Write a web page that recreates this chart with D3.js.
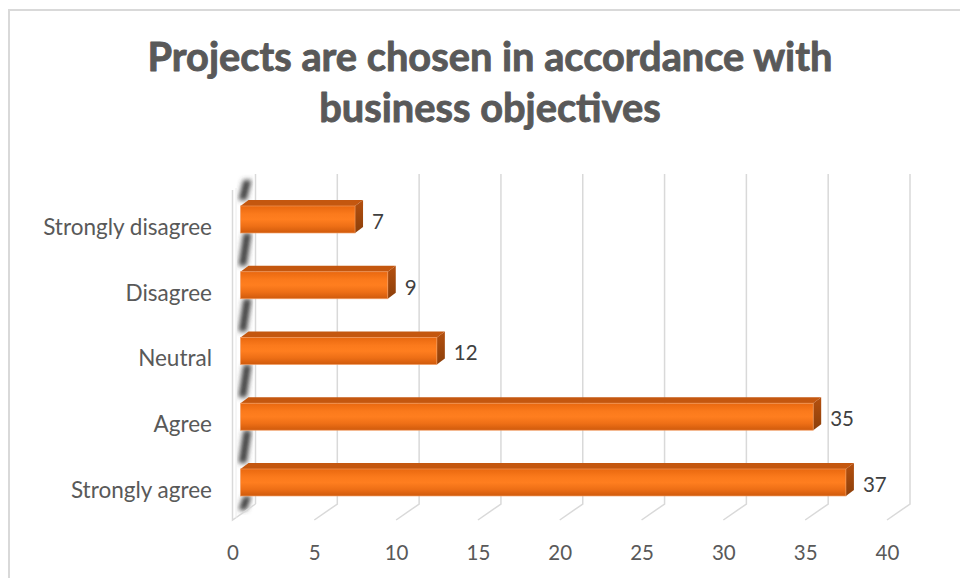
<!DOCTYPE html>
<html>
<head>
<meta charset="utf-8">
<script src="https://cdn.jsdelivr.net/npm/d3@7"></script>
<style>
  html, body { margin: 0; padding: 0; background: #ffffff; }
  svg { display: block; }
  text { font-family: Lato, "Open Sans", sans-serif; }
</style>
</head>
<body>
<script>
// Survey responses
const categories = ["Strongly agree", "Agree", "Neutral", "Disagree", "Strongly disagree"];
const values = [37, 35, 12, 9, 7];
const xTicks = [0, 5, 10, 15, 20, 25, 30, 35, 40];
const titleLines = ["Projects are chosen in accordance with", "business objectives"];

const W = 960, H = 578;
const svg = d3.select("body").append("svg").attr("width", W).attr("height", H);
const defs = svg.append("defs");

// Outer chart frame
svg.append("rect")
  .attr("x", 9).attr("y", 10).attr("width", 1000).attr("height", 700)
  .attr("fill", "#fff").attr("stroke", "#d9d9d9").attr("stroke-width", 2);

// Back plane value scale, plus the pseudo-3D depth offset to the front of the floor
const x = d3.scaleLinear().domain([0, 40]).range([255.5, 910]);
const depth = { dx: -23, dy: 16 };
const wallTop = 174, wallBottom = 504;

// Category bands (top to bottom), giving the front-face top of each bar
const order = categories.slice().reverse();
const step = 65.75;
const y = d3.scaleBand().domain(order)
  .range([186.6, 186.6 + step * order.length])
  .paddingInner(1 - 27 / step).paddingOuter((1 - 27 / step) / 2);
const barH = y.bandwidth();
const barShift = -15;        // bar front face sits between the back wall and the floor front
const bev = { dx: 8, dy: -6 }; // top/side face offset of each bar

// Gradients
const front = defs.append("linearGradient").attr("id", "barFront")
  .attr("x1", 0).attr("y1", 0).attr("x2", 0).attr("y2", 1);
[[0, "#e9680f"], [0.3, "#fb7a1c"], [0.5, "#ff7e1f"], [0.75, "#ee6f16"], [1, "#cf5a0c"]]
  .forEach(([o, c]) => front.append("stop").attr("offset", o).attr("stop-color", c));
const side = defs.append("linearGradient").attr("id", "barSide")
  .attr("x1", 0).attr("y1", 0).attr("x2", 0).attr("y2", 1);
[[0, "#b5500f"], [1, "#8c3f0a"]]
  .forEach(([o, c]) => side.append("stop").attr("offset", o).attr("stop-color", c));

const blur = defs.append("filter").attr("id", "soft")
  .attr("x", "-100%").attr("y", "-30%").attr("width", "300%").attr("height", "160%");
blur.append("feGaussianBlur").attr("stdDeviation", 2.6);

// Side wall at zero
const x0 = x(0);
const wallPts = [[x0 + depth.dx, wallTop + depth.dy], [x0, wallTop], [x0, wallBottom], [x0 + depth.dx, wallBottom + depth.dy]];
defs.append("clipPath").attr("id", "wallClip")
  .append("polygon").attr("points", [[x0 - 19, wallTop], [x0 - 2, wallTop], [x0 - 2, wallBottom + depth.dy], [x0 - 19, wallBottom + depth.dy]].map(p => p.join(",")).join(" "));

const wallG = svg.append("g").attr("clip-path", "url(#wallClip)");
// shaded streaks visible in the gaps between bars
const gaps = [];
let prev = wallTop + 6;
order.forEach(c => {
  gaps.push([prev, y(c) + bev.dy]);
  prev = y(c) + barH;
});
gaps.push([prev, wallBottom + 6]);
gaps.forEach(([g0, g1]) => {
  const a = x0 - 8, b = x0 - 13;
  wallG.append("polygon")
    .attr("points", [[a - 4, g0], [a + 4, g0], [b + 4, g1], [b - 4, g1]].map(p => p.join(",")).join(" "))
    .attr("fill", "#3c3c3c").attr("filter", "url(#soft)");
});

svg.append("path")
  .attr("d", `M${wallPts[0]}L${wallPts[3]}L${wallPts[2]}M${wallPts[1]}L${wallPts[2]}`)
  .attr("fill", "none").attr("stroke", "#d9d9d9").attr("stroke-width", 1.5);
svg.append("line")
  .attr("x1", x0 + depth.dx + 3.5).attr("x2", x0 + depth.dx + 3.5)
  .attr("y1", wallTop + depth.dy - 2).attr("y2", wallBottom + depth.dy - 2)
  .attr("stroke", "#ececec").attr("stroke-width", 1);

// Gridlines on the back wall, folding onto the floor
svg.append("g").selectAll("path").data(xTicks.filter(t => t > 0)).join("path")
  .attr("d", t => `M${x(t)},${wallTop}V${wallBottom}l${depth.dx},${depth.dy}`)
  .attr("fill", "none").attr("stroke", "#d9d9d9").attr("stroke-width", 1.5);

// Tick labels along the floor front
svg.append("g").selectAll("text").data(xTicks).join("text")
  .attr("x", t => x(t) + depth.dx + 0.5)
  .attr("y", 552)
  .attr("text-anchor", "middle").attr("dominant-baseline", "central")
  .attr("fill", "#595959").attr("font-size", 20.5)
  .text(t => t);

// Bars
const bars = svg.append("g").selectAll("g").data(order).join("g");
const valueOf = c => values[categories.indexOf(c)];
bars.each(function (c) {
  const g = d3.select(this);
  const bx0 = x(0) + barShift, bx1 = x(valueOf(c)) + barShift;
  const by = y(c);
  g.append("polygon")
    .attr("points", [[bx0, by], [bx1, by], [bx1 + bev.dx, by + bev.dy], [bx0 + bev.dx, by + bev.dy]].map(p => p.join(",")).join(" "))
    .attr("fill", "#c4570f");
  g.append("polygon")
    .attr("points", [[bx1, by], [bx1 + bev.dx, by + bev.dy], [bx1 + bev.dx, by + barH + bev.dy], [bx1, by + barH]].map(p => p.join(",")).join(" "))
    .attr("fill", "url(#barSide)");
  g.append("rect")
    .attr("x", bx0).attr("y", by).attr("width", bx1 - bx0).attr("height", barH)
    .attr("fill", "url(#barFront)")
    .attr("stroke", "#f39a5c").attr("stroke-width", 0.8).attr("stroke-opacity", 0.8);
});

// Value labels
svg.append("g").selectAll("text").data(order).join("text")
  .attr("x", c => x(valueOf(c)) + 2)
  .attr("y", c => y(c) + barH / 2 + 1.5)
  .attr("dominant-baseline", "central")
  .attr("fill", "#404040").attr("font-size", 20.5)
  .text(c => valueOf(c));

// Category labels
const catText = svg.append("g").selectAll("text").data(order).join("text")
  .attr("x", 212)
  .attr("y", c => y(c) + barH / 2 + 7)
  .attr("text-anchor", "end").attr("dominant-baseline", "central")
  .attr("fill", "#595959").attr("font-size", 19)
  .text(c => c);
{
  const longest = catText.filter(c => c === "Strongly disagree").node();
  const w = longest.getComputedTextLength();
  catText.attr("font-size", 19 * 169 / w);
}

// Title
const titleG = svg.append("g");
const titleWidths = [685, 340];
const titleBase = [71, 122];
let tSize = 38;
titleLines.forEach((line, i) => {
  titleG.append("text")
    .attr("x", 490).attr("y", titleBase[i])
    .attr("text-anchor", "middle")
    .attr("font-weight", "bold").attr("font-size", tSize)
    .attr("fill", "#595959")
    .attr("stroke", "#595959").attr("stroke-width", 0.9).attr("stroke-linejoin", "round")
    .text(line);
});
{
  const first = titleG.select("text").node();
  const w = first.getComputedTextLength();
  titleG.selectAll("text").attr("font-size", tSize * titleWidths[0] / w);
}
</script>
</body>
</html>
